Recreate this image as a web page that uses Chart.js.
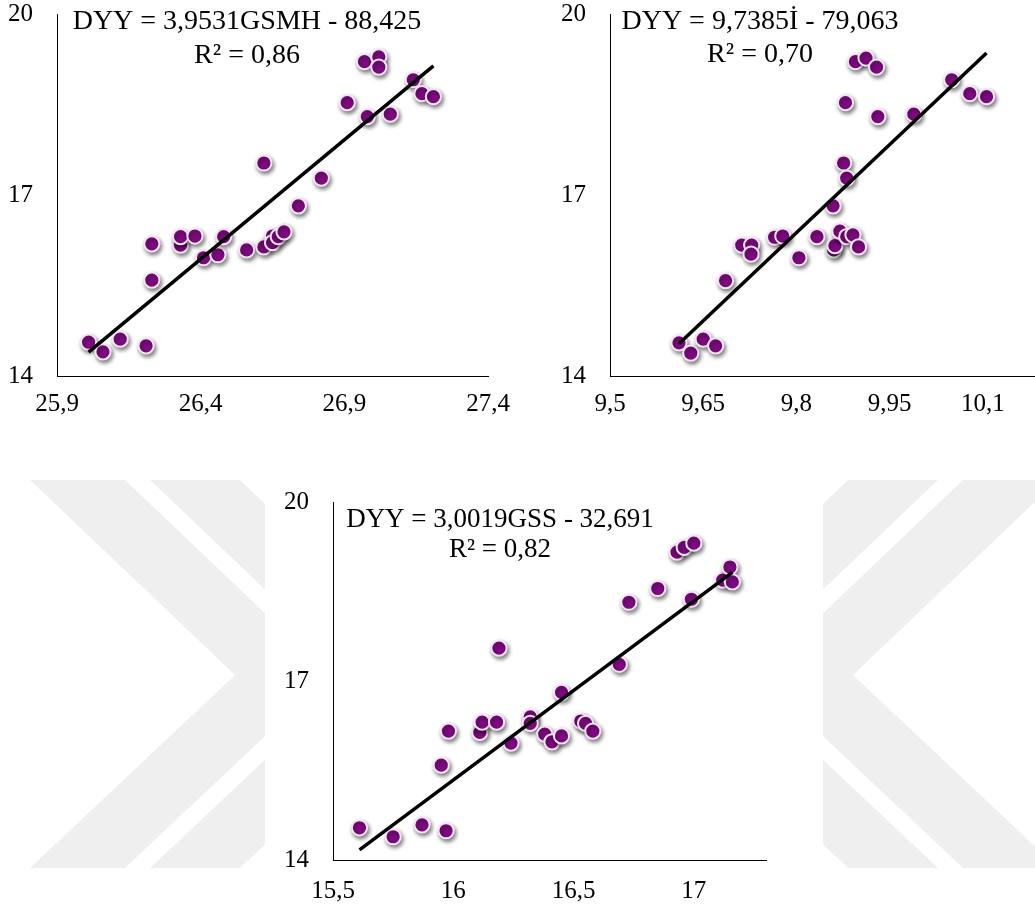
<!DOCTYPE html>
<html>
<head>
<meta charset="utf-8">
<script src="https://cdn.jsdelivr.net/npm/chart.js@4.4.1/dist/chart.umd.min.js"></script>
<style>
  html, body { margin: 0; padding: 0; background: #fff; overflow: hidden; }
  body { width: 1035px; height: 912px; position: relative; }
  .box { position: absolute; }
  #wm { position: absolute; left: 0; top: 0; }
  #panel3 { position: absolute; left: 265px; top: 470px; width: 558px; height: 442px; background: #fff; }
</style>
</head>
<body>
<!-- faint watermark behind the bottom chart -->
<svg id="wm" width="1035" height="912">
  <g fill="#efefef">
    <polygon points="30,480 125,480 330,675 125,868 30,868 235,675"/>
    <polygon points="150,480 240,480 445,675 240,868 150,868 355,675"/>
    <polygon points="1058,480 963,480 758,675 963,868 1058,868 853,675"/>
    <polygon points="938,480 848,480 643,675 848,868 938,868 733,675"/>
  </g>
</svg>
<div id="panel3"></div>
<div class="box" style="left:0px;top:-26px;width:533px;height:452px"><canvas id="c1"></canvas></div>
<div class="box" style="left:553px;top:-26px;width:568px;height:452px"><canvas id="c2"></canvas></div>
<div class="box" style="left:276px;top:462px;width:535px;height:448px"><canvas id="c3"></canvas></div>
<script>
// y eksen (DYY)
const yTicks = [14, 17, 20];

// 1. grafik: GSMH
const gsmh = [26.01, 26.06, 26.12, 26.21, 26.23, 26.23, 26.33, 26.33, 26.38, 26.41,
              26.46, 26.48, 26.56, 26.62, 26.62, 26.65, 26.65, 26.67, 26.69, 26.74,
              26.82, 26.91, 26.97, 27.02, 27.02, 26.98, 27.06, 27.14, 27.17, 27.21];
const dyy1 = [14.56, 14.40, 14.61, 14.50, 16.19, 15.59, 16.17, 16.31, 16.32, 15.96,
              16.01, 16.31, 16.09, 16.14, 17.53, 16.32, 16.21, 16.31, 16.39, 16.82,
              17.28, 18.53, 19.21, 19.29, 19.12, 18.30, 18.34, 18.91, 18.68, 18.63];
const gsmhTicks = [25.9, 26.4, 26.9, 27.4];
const fit1 = [3.9531, -88.425];
const eq1 = ['DYY = 3,9531GSMH - 88,425', 'R² = 0,86'];

// 2. grafik: İ
const iVals = [9.611, 9.630, 9.650, 9.670, 9.686, 9.712, 9.728, 9.727, 9.765, 9.778,
               9.804, 9.833, 9.859, 9.860, 9.862, 9.870, 9.881, 9.891, 9.900, 9.876,
               9.881, 9.879, 9.895, 9.912, 9.929, 9.931, 9.989, 10.050, 10.079, 10.106];
const dyy2 = [14.55, 14.38, 14.61, 14.50, 15.58, 16.17, 16.17, 16.02, 16.30, 16.32,
              15.96, 16.31, 16.82, 16.09, 16.16, 16.40, 16.31, 16.34, 16.14, 17.53,
              17.28, 18.53, 19.21, 19.27, 19.12, 18.30, 18.34, 18.91, 18.68, 18.63];
const iTicks = [9.5, 9.65, 9.8, 9.95, 10.1];
const fit2 = [9.7385, -79.063];
const eq2 = ['DYY = 9,7385İ - 79,063', 'R² = 0,70'];

// 3. grafik: GSS
const gss = [15.61, 15.75, 15.87, 15.97, 15.95, 15.98, 16.11, 16.12, 16.18, 16.19,
             16.24, 16.32, 16.32, 16.38, 16.41, 16.45, 16.45, 16.53, 16.55, 16.58,
             16.69, 16.73, 16.85, 16.93, 16.96, 17.00, 16.99, 17.12, 17.15, 17.16];
const dyy3 = [14.54, 14.39, 14.59, 14.49, 15.59, 16.16, 16.14, 16.31, 16.31, 17.55,
              15.96, 16.40, 16.29, 16.11, 15.98, 16.08, 16.81, 16.33, 16.29, 16.16,
              17.28, 18.32, 18.55, 19.16, 19.24, 19.31, 18.37, 18.69, 18.91, 18.66];
const gssTicks = [15.5, 16, 16.5, 17];
const fit3 = [3.0019, -32.691];
const eq3 = ['DYY = 3,0019GSS - 32,691', 'R² = 0,82'];

const SERIF = '"Liberation Serif", "Times New Roman", serif';

// golge (Excel gibi)
const markerShadow = {
    id: 'markerShadow',
    beforeDatasetDraw(chart, args) {
        if (args.meta.type !== 'scatter') return;
        const ctx = chart.ctx;
        ctx.save();
        ctx.shadowColor = 'rgba(0,0,0,0.5)';
        ctx.shadowBlur = 4;
        ctx.shadowOffsetX = 1.5;
        ctx.shadowOffsetY = 2.5;
    },
    afterDatasetDraw(chart, args) {
        if (args.meta.type !== 'scatter') return;
        chart.ctx.restore();
    }
};

// denklem + R2 yazisi
const eqLabel = {
    id: 'eqLabel',
    afterDatasetsDraw(chart, args, opts) {
        const { ctx, chartArea } = chart;
        ctx.save();
        ctx.font = opts.size + 'px ' + SERIF;
        ctx.fillStyle = '#000';
        ctx.textAlign = 'center';
        ctx.textBaseline = 'middle';
        opts.lines.forEach((t, i) => {
            ctx.fillText(t, chartArea.left + opts.dx, chartArea.top + opts.dy + i * opts.gap);
        });
        ctx.restore();
    }
};

const fmt = v => String(v).replace('.', ',');

function makeChart(id, xs, ys, fit, xMin, xMax, xTicks, eq, eqPos, xPad) {
    const lo = Math.min(...xs), hi = Math.max(...xs);
    const trend = [lo, hi].map(x => ({ x: x, y: fit[0] * x + fit[1] }));
    const pts = xs.map((x, i) => ({ x: x, y: ys[i] }));

    return new Chart(document.getElementById(id), {
        type: 'scatter',
        data: {
            datasets: [
                {
                    type: 'line',
                    data: trend,
                    borderColor: '#000',
                    borderWidth: 3.5,
                    pointRadius: 0,
                    fill: false,
                    order: 0,
                },
                {
                    data: pts,
                    backgroundColor: '#800a82',
                    borderColor: '#f3e6f3',
                    borderWidth: 2,
                    pointRadius: 7.6,
                    order: 1,
                }
            ]
        },
        options: {
            responsive: true,
            maintainAspectRatio: false,
            animation: false,
            layout: { padding: { left: 0, top: 40, right: 45, bottom: 0 } },
            plugins: {
                legend: { display: false },
                tooltip: { enabled: false },
                eqLabel: { lines: eq, dx: eqPos[0], dy: eqPos[1], gap: eqPos[2], size: eqPos[3] },
            },
            scales: {
                x: {
                    type: 'linear',
                    min: xMin,
                    max: xMax,
                    afterBuildTicks: s => { s.ticks = xTicks.map(v => ({ value: v })); },
                    afterFit: s => { s.height = 50; },
                    grid: { display: false, drawTicks: false },
                    border: { display: true, color: '#000', width: 1 },
                    ticks: {
                        color: '#000',
                        font: { family: SERIF, size: 25 },
                        padding: xPad,
                        maxRotation: 0,
                        autoSkip: false,
                        callback: fmt,
                    },
                },
                y: {
                    type: 'linear',
                    min: 14,
                    max: 20,
                    afterBuildTicks: s => { s.ticks = yTicks.map(v => ({ value: v })); },
                    afterFit: s => { s.width = 57; },
                    grid: { display: false, drawTicks: false },
                    border: { display: true, color: '#000', width: 1 },
                    ticks: {
                        color: '#000',
                        font: { family: SERIF, size: 25 },
                        padding: 24,
                        callback: fmt,
                    },
                },
            },
        },
        plugins: [markerShadow, eqLabel],
    });
}

makeChart('c1', gsmh, dyy1, fit1, 25.9, 27.4, gsmhTicks, eq1, [190, 8, 34, 28], 13);
makeChart('c2', iVals, dyy2, fit2, 9.5, 10.25, iTicks, eq2, [150, 8, 33, 28], 13);
makeChart('c3', gss, dyy3, fit3, 15.5, 17.3, gssTicks, eq3, [167, 18, 30, 27], 16);
</script>
</body>
</html>
